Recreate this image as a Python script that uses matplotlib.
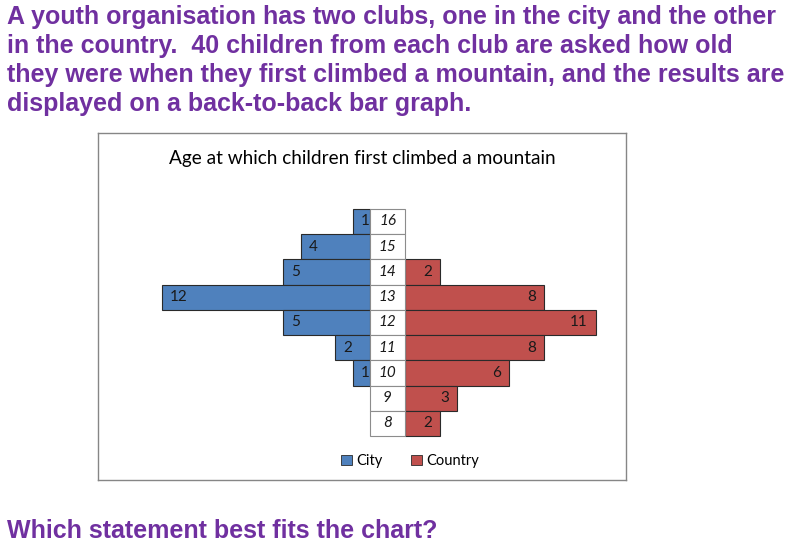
import numpy as np
import matplotlib
matplotlib.use("Agg")
import matplotlib.pyplot as plt
from matplotlib.patches import Patch

# data
ages = [16, 15, 14, 13, 12, 11, 10, 9, 8]
city = [1, 4, 5, 12, 5, 2, 1, 0, 0]
country = [0, 0, 2, 8, 11, 8, 6, 3, 2]

intro = ("A youth organisation has two clubs, one in the city and the other\n"
         "in the country.  40 children from each club are asked how old\n"
         "they were when they first climbed a mountain, and the results are\n"
         "displayed on a back-to-back bar graph.")
question = "Which statement best fits the chart?"
chart_title = "Age at which children first climbed a mountain"

blue = '#4F81BD'
red = '#C0504D'
purple = '#7030A0'
W, H = 787, 546

fig = plt.figure(figsize=(W / 100, H / 100), dpi=100)

# chart box in pixels
x0, x1, y0, y1 = 98, 626, 133, 480
ax = fig.add_axes([x0 / W, 1 - y1 / H, (x1 - x0) / W, (y1 - y0) / H])
ax.set_xlim(-16.69, 13.75)
ax.set_ylim(5.76, 19.5)
ax.set_xticks([])
ax.set_yticks([])
for s in ax.spines.values():
    s.set_color('#868686')
    s.set_linewidth(1.0)

half = 1.0  # half width of the age column
ages = np.array(ages)
city = np.array(city)
country = np.array(country)

m = city > 0
ax.barh(ages[m], -city[m], left=-half, height=1.0, color=blue,
        edgecolor='#2a2a2a', linewidth=0.8)
m = country > 0
ax.barh(ages[m], country[m], left=half, height=1.0, color=red,
        edgecolor='#2a2a2a', linewidth=0.8)
ax.barh(ages, 2 * half, left=-half, height=1.0, color='white',
        edgecolor='#8c8c8c', linewidth=0.8)

lab_font = dict(family='Lato', fontsize=11, color='#1a1a1a')
for a, c, k in zip(ages, city, country):
    ax.text(0, a, str(a), ha='center', va='center', style='italic', **lab_font)
    if c > 0:
        ax.text(-half - c + 0.45, a, str(c), ha='left', va='center', **lab_font)
    if k > 0:
        ax.text(half + k - 0.45, a, str(k), ha='right', va='center', **lab_font)

fig.text(362 / W, 1 - 158 / H, chart_title, ha='center', va='center',
         family='Lato', fontsize=13.7, color='black')

handles = [Patch(facecolor=blue, edgecolor='#2a2a2a', linewidth=0.6, label='City'),
           Patch(facecolor=red, edgecolor='#2a2a2a', linewidth=0.6, label='Country')]
fig.legend(handles=handles, loc='center', bbox_to_anchor=(410 / W, 1 - 461 / H),
           ncol=2, frameon=False, prop={'family': 'Lato', 'size': 10.5},
           handlelength=0.7, handleheight=0.7, handletextpad=0.3, columnspacing=2.0)

fig.text(7 / W, 1 - 5 / H, intro, ha='left', va='top', family='Liberation Sans',
         fontweight='bold', fontsize=18, color=purple, linespacing=1.26)
fig.text(7 / W, 1 - 531 / H, question, ha='left', va='center', family='Liberation Sans',
         fontweight='bold', fontsize=18, color=purple)

fig.savefig('out.png', dpi=100)
